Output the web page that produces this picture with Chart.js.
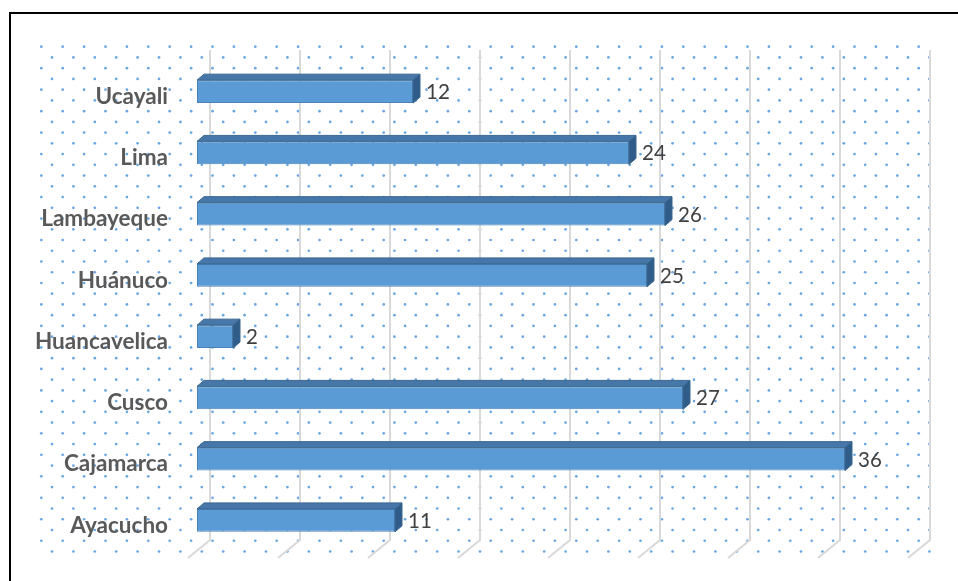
<!DOCTYPE html>
<html>
<head>
<meta charset="utf-8">
<script src="https://cdn.jsdelivr.net/npm/chart.js@4/dist/chart.umd.min.js"></script>
<style>
  html, body { margin: 0; padding: 0; background: #fff; overflow: hidden; }
  #wrap { position: relative; width: 958px; height: 581px; }
  #frame { position: absolute; left: 9px; top: 12px; width: 1000px; height: 1000px; border: 2px solid #000; box-sizing: border-box; pointer-events: none; }
  canvas { position: absolute; left: 0; top: 0; }
</style>
</head>
<body>
<div id="wrap">
  <canvas id="c" width="958" height="581"></canvas>
  <div id="frame"></div>
</div>
<script>
const categories = ['Ucayali', 'Lima', 'Lambayeque', 'Huánuco', 'Huancavelica', 'Cusco', 'Cajamarca', 'Ayacucho'];
const values = [12, 24, 26, 25, 2, 27, 36, 11];
const gridTicks = [0, 5, 10, 15, 20, 25, 30, 35, 40];

const DEPTH_X = 7, DEPTH_Y = -6;
const WALL_X = 13;

const dotsPlugin = {
  id: 'dots',
  beforeDraw(chart) {
    const ctx = chart.ctx;
    ctx.save();
    ctx.fillStyle = '#fff';
    ctx.fillRect(0, 0, chart.width, chart.height);
    ctx.fillStyle = 'rgba(80,150,220,0.85)';
    const sx = 21.4, sy = 10.74;
    for (let r = 0; r < 48; r++) {
      const y = 46.7 + r * sy;
      const x0 = (r % 2 === 0) ? 41.3 : 52.0;
      for (let x = x0; x <= 936; x += sx) {
        ctx.beginPath();
        ctx.arc(x, y, 1.35, 0, Math.PI * 2);
        ctx.fill();
      }
    }
    ctx.restore();
  }
};

const gridPlugin = {
  id: 'grid3d',
  beforeDatasetsDraw(chart) {
    const ctx = chart.ctx;
    const xs = chart.scales.x;
    ctx.save();
    ctx.strokeStyle = '#d9d9d9';
    ctx.lineWidth = 2;
    gridTicks.forEach(t => {
      const xb = xs.getPixelForValue(t) + WALL_X;
      ctx.beginPath();
      ctx.moveTo(xb, 50);
      ctx.lineTo(xb, 540);
      ctx.lineTo(xb - 22, 558);
      ctx.stroke();
    });
    ctx.restore();
  }
};

const bar3dPlugin = {
  id: 'bar3d',
  afterDatasetsDraw(chart) {
    const ctx = chart.ctx;
    const meta = chart.getDatasetMeta(0);
    ctx.save();
    meta.data.forEach((bar, i) => {
      const p = bar.getProps(['x', 'y', 'base', 'height'], true);
      const top = p.y - p.height / 2, bot = p.y + p.height / 2;
      const x0 = p.base, x1 = p.x;
      // top face
      ctx.beginPath();
      ctx.moveTo(x0, top);
      ctx.lineTo(x0 + DEPTH_X, top + DEPTH_Y);
      ctx.lineTo(x1 + DEPTH_X, top + DEPTH_Y);
      ctx.lineTo(x1, top);
      ctx.closePath();
      ctx.fillStyle = '#4677a8';
      ctx.fill();
      ctx.strokeStyle = '#3b6791';
      ctx.lineWidth = 1;
      ctx.stroke();
      // side face
      ctx.beginPath();
      ctx.moveTo(x1, top);
      ctx.lineTo(x1 + DEPTH_X, top + DEPTH_Y);
      ctx.lineTo(x1 + DEPTH_X, bot + DEPTH_Y);
      ctx.lineTo(x1, bot);
      ctx.closePath();
      ctx.fillStyle = '#2f5c88';
      ctx.fill();
      ctx.stroke();
      // value label
      ctx.fillStyle = '#404040';
      ctx.font = '20.5px Lato';
      ctx.textAlign = 'left';
      ctx.textBaseline = 'middle';
      ctx.fillText(String(values[i]), x1 + 13, p.y + 1);
    });
    ctx.restore();
  }
};

new Chart(document.getElementById('c'), {
  type: 'bar',
  data: {
    labels: categories,
    datasets: [{
      data: values,
      backgroundColor: '#5b9bd5',
      borderColor: '#4a82b8',
      borderWidth: 1,
      borderSkipped: false,
      barPercentage: 0.375,
      categoryPercentage: 1.0
    }]
  },
  options: {
    indexAxis: 'y',
    responsive: false,
    devicePixelRatio: 1,
    animation: false,
    layout: { padding: { top: 61, bottom: 30, left: 0, right: 41 } },
    plugins: {
      legend: { display: false },
      tooltip: { enabled: false }
    },
    scales: {
      x: {
        display: false,
        min: 0,
        max: 40
      },
      y: {
        position: 'left',
        border: { display: false },
        grid: { display: false, drawTicks: false },
        ticks: {
          color: '#595959',
          font: { family: 'Lato', size: 22.5, weight: 'bold' },
          padding: 29,
          labelOffset: 5
        },
        afterFit(scale) {
          scale.width = 197;
          scale.paddingTop = 0;
          scale.paddingBottom = 0;
        }
      }
    }
  },
  plugins: [dotsPlugin, gridPlugin, bar3dPlugin]
});
</script>
</body>
</html>
